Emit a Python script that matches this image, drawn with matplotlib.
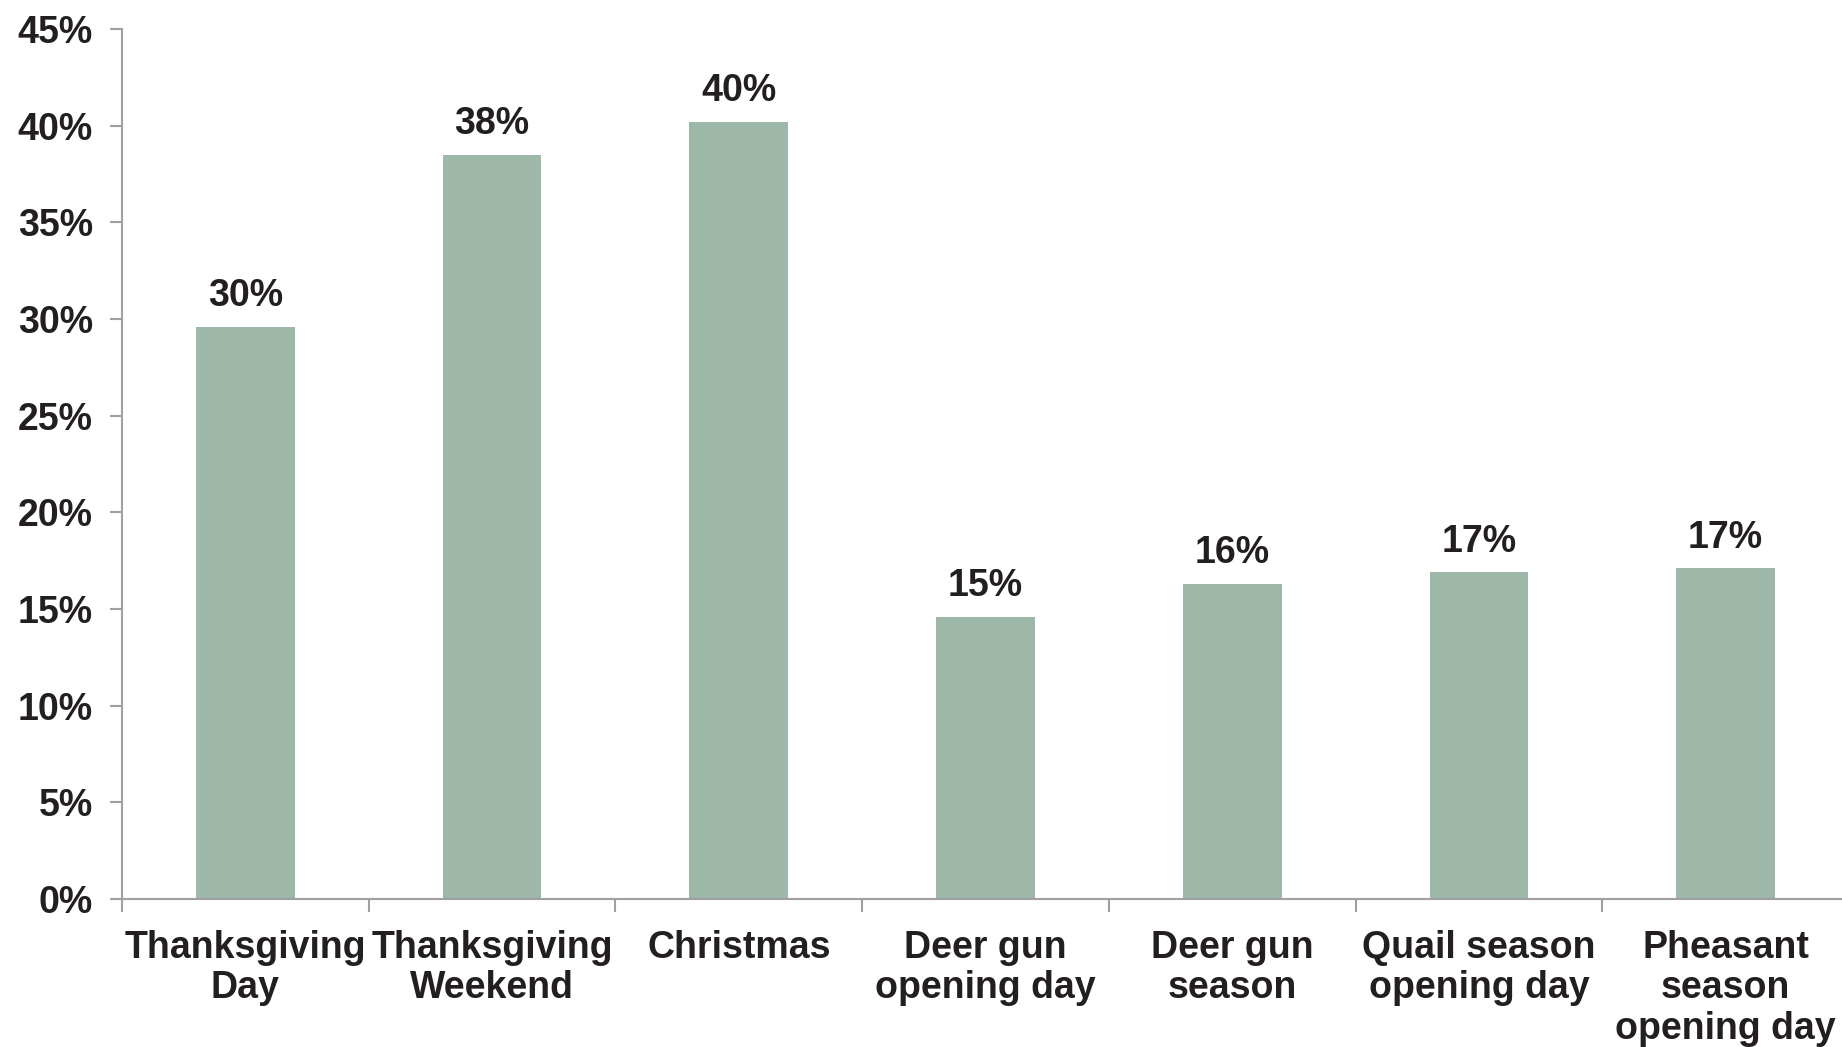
import numpy as np
import matplotlib.pyplot as plt
from matplotlib.ticker import FixedLocator

plt.rcParams['font.family'] = ['Liberation Sans', 'DejaVu Sans']
plt.rcParams['font.weight'] = 'bold'

# data
categories = ['Thanksgiving\nDay', 'Thanksgiving\nWeekend', 'Christmas',
              'Deer gun\nopening day', 'Deer gun\nseason',
              'Quail season\nopening day', 'Pheasant\nseason\nopening day']
values = [29.6, 38.5, 40.2, 14.6, 16.3, 16.9, 17.1]
value_labels = ['30%', '38%', '40%', '15%', '16%', '17%', '17%']
yticks = [0, 5, 10, 15, 20, 25, 30, 35, 40, 45]

bar_color = '#9db8a8'
text_color = '#231f20'
axis_color = '#a0a0a0'

fig = plt.figure(figsize=(18.42, 10.47), dpi=100)
ax = fig.add_axes([122 / 1842, 148 / 1047, 1727 / 1842, 870 / 1047])

x = np.arange(len(categories))
ax.bar(x, values, width=0.4, color=bar_color, zorder=2)

for xi, v, lab in zip(x, values, value_labels):
    ax.annotate(lab, (xi, v), xytext=(0, 9), textcoords='offset points',
                ha='center', va='bottom', fontsize=27, fontweight='bold',
                color=text_color)

ax.set_xlim(-0.5, len(categories) - 0.5)
ax.set_ylim(0, 45)

# y axis
ax.set_yticks(yticks)
ax.set_yticklabels(['%d%%' % t for t in yticks])
ax.tick_params(axis='y', direction='out', length=9, width=1.5, color=axis_color,
               labelsize=27, labelcolor=text_color, pad=12)

# x axis: tick marks between categories, labels at centres
ax.xaxis.set_major_locator(FixedLocator(np.arange(-0.5, len(categories), 1.0)))
ax.set_xticklabels([])
ax.set_xticks(x, minor=True)
ax.set_xticklabels(categories, minor=True, fontsize=27, fontweight='bold',
                   color=text_color, linespacing=1.17)
ax.tick_params(axis='x', which='minor', length=0, pad=22)
ax.tick_params(axis='x', which='major', direction='out', length=9, width=1.5,
               color=axis_color)

for side in ['top', 'right']:
    ax.spines[side].set_visible(False)
for side in ['left', 'bottom']:
    ax.spines[side].set_color(axis_color)
    ax.spines[side].set_linewidth(1.5)

plt.savefig('out.png', dpi=100)
plt.close(fig)
